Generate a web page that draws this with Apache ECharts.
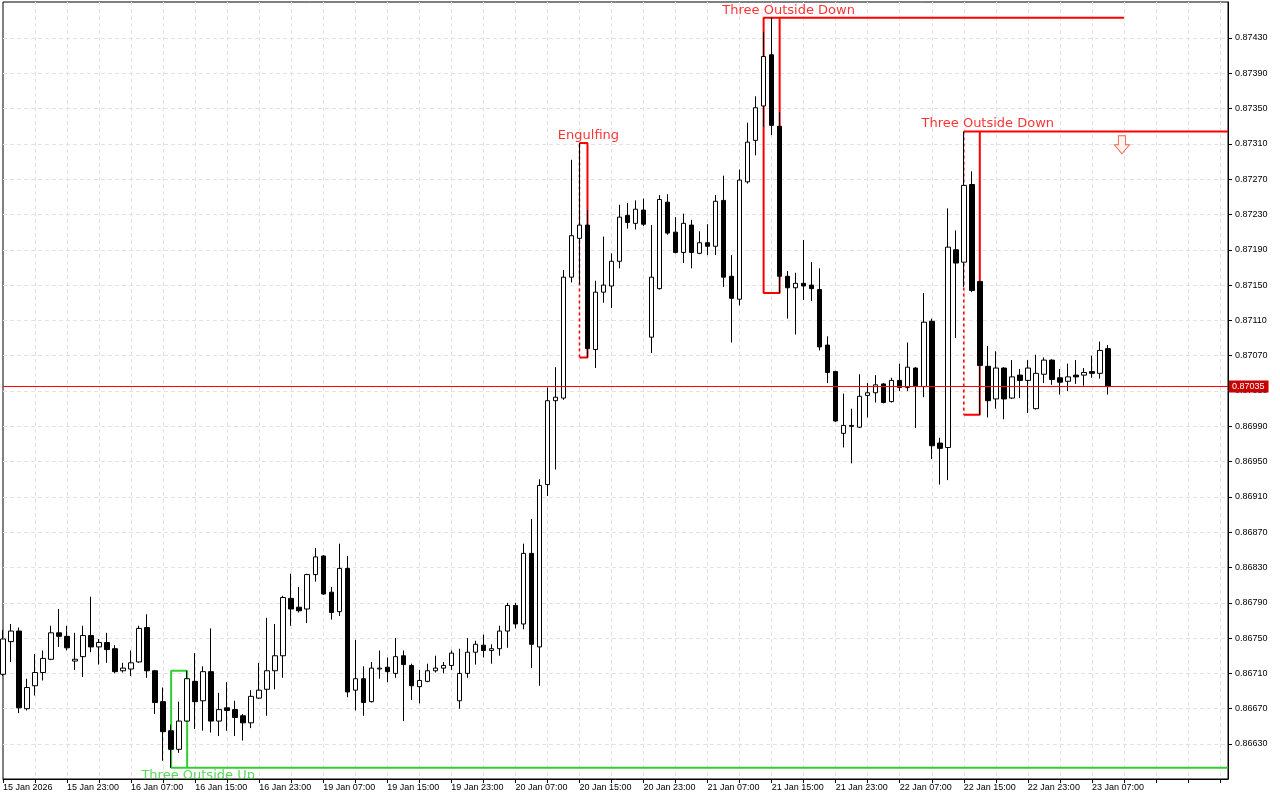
<!DOCTYPE html>
<html><head><meta charset="utf-8">
<script src="https://cdn.jsdelivr.net/npm/echarts@6/dist/echarts.min.js"></script>
<style>html,body{margin:0;padding:0;background:#fff}#chart{width:1280px;height:800px}</style>
</head><body><div id="chart"></div>
<script>
// ---- data ----
const tickLabels = ['15 Jan 2026','15 Jan 23:00','16 Jan 07:00','16 Jan 15:00','16 Jan 23:00','19 Jan 07:00','19 Jan 15:00','19 Jan 23:00','20 Jan 07:00','20 Jan 15:00','20 Jan 23:00','21 Jan 07:00','21 Jan 15:00','21 Jan 23:00','22 Jan 07:00','22 Jan 15:00','22 Jan 23:00','23 Jan 07:00'];
const yTicks = [0.86630,0.86670,0.86710,0.86750,0.86790,0.86830,0.86870,0.86910,0.86950,0.86990,0.87030,0.87070,0.87110,0.87150,0.87190,0.87230,0.87270,0.87310,0.87350,0.87390,0.87430];

const opens = [0.86709,0.86746,0.86758,0.86670,0.86696,0.86711,0.86726,0.86756,0.86752,0.86724,0.86729,0.86753,0.86740,0.86745,0.86738,0.86713,0.86715,0.86723,0.86762,0.86713,
0.86678,0.86645,0.86624,0.86656,0.86701,0.86679,0.86712,0.86656,0.86671,0.86669,0.86662,0.86654,0.86682,0.86692,0.86713,0.86730,0.86795,0.86785,0.86783,0.86822,
0.86843,0.86802,0.86780,0.86829,0.86691,0.86704,0.86678,0.86715,0.86717,0.86710,0.86730,0.86719,0.86695,0.86701,0.86713,0.86716,0.86719,0.86679,0.86710,0.86734,
0.86742,0.86736,0.86738,0.86758,0.86787,0.86766,0.86846,0.86740,0.86924,0.87019,0.87022,0.87159,0.87203,0.87218,0.87077,0.87142,0.87149,0.87177,0.87229,0.87220,
0.87235,0.87091,0.87146,0.87244,0.87210,0.87187,0.87218,0.87186,0.87198,0.87194,0.87246,0.87160,0.87134,0.87267,0.87314,0.87353,0.87411,0.87330,0.87160,0.87147,
0.87152,0.87150,0.87145,0.87082,0.87052,0.86982,0.86991,0.86989,0.87025,0.87028,0.87038,0.87018,0.87042,0.87034,0.87056,0.87035,0.87109,0.86971,0.86966,0.87190,
0.87176,0.87264,0.87154,0.87058,0.87021,0.87056,0.87022,0.87048,0.87042,0.87010,0.87049,0.87065,0.87045,0.87041,0.87048,0.87048,0.87052,0.87050,0.87078];
const closes = [0.86749,0.86758,0.86671,0.86694,0.86711,0.86727,0.86756,0.86752,0.86739,0.86726,0.86753,0.86740,0.86745,0.86737,0.86712,0.86716,0.86722,0.86761,0.86713,0.86677,
0.86644,0.86624,0.86656,0.86704,0.86678,0.86712,0.86656,0.86669,0.86668,0.86660,0.86654,0.86684,0.86691,0.86713,0.86730,0.86796,0.86783,0.86781,0.86822,0.86842,
0.86800,0.86779,0.86829,0.86689,0.86704,0.86677,0.86716,0.86716,0.86712,0.86729,0.86720,0.86696,0.86702,0.86713,0.86716,0.86719,0.86733,0.86710,0.86734,0.86743,
0.86736,0.86738,0.86758,0.86787,0.86766,0.86846,0.86743,0.86923,0.87019,0.87023,0.87159,0.87206,0.87218,0.87078,0.87142,0.87150,0.87177,0.87227,0.87221,0.87236,
0.87219,0.87159,0.87247,0.87209,0.87187,0.87220,0.87187,0.87198,0.87194,0.87245,0.87159,0.87135,0.87269,0.87312,0.87351,0.87409,0.87331,0.87160,0.87147,0.87152,
0.87149,0.87146,0.87080,0.87051,0.86996,0.86991,0.86990,0.87024,0.87028,0.87037,0.87017,0.87042,0.87034,0.87057,0.87036,0.87108,0.86968,0.86965,0.87193,0.87175,
0.87263,0.87144,0.87059,0.87019,0.87056,0.87021,0.87046,0.87042,0.87056,0.87050,0.87065,0.87043,0.87040,0.87046,0.87046,0.87051,0.87050,0.87076,0.87035];
const lows = [0.86707,0.86723,0.86665,0.86668,0.86685,0.86702,0.86725,0.86740,0.86736,0.86714,0.86706,0.86734,0.86720,0.86722,0.86710,0.86711,0.86707,0.86722,0.86705,0.86664,
0.86611,0.86603,0.86620,0.86655,0.86647,0.86645,0.86643,0.86639,0.86645,0.86639,0.86634,0.86648,0.86681,0.86662,0.86692,0.86705,0.86764,0.86779,0.86767,0.86814,
0.86799,0.86771,0.86775,0.86683,0.86668,0.86662,0.86677,0.86704,0.86700,0.86705,0.86656,0.86680,0.86676,0.86700,0.86711,0.86710,0.86714,0.86670,0.86705,0.86720,
0.86728,0.86721,0.86730,0.86739,0.86761,0.86760,0.86716,0.86696,0.86911,0.86941,0.87020,0.87153,0.87151,0.87068,0.87056,0.87130,0.87124,0.87169,0.87214,0.87213,
0.87217,0.87073,0.87145,0.87207,0.87186,0.87175,0.87169,0.87185,0.87184,0.87184,0.87148,0.87085,0.87127,0.87265,0.87297,0.87329,0.87320,0.87141,0.87112,0.87094,
0.87133,0.87132,0.87076,0.87039,0.86995,0.86966,0.86948,0.86988,0.87000,0.87017,0.87016,0.87017,0.87030,0.87030,0.86988,0.87023,0.86953,0.86924,0.86929,0.87090,
0.87148,0.87142,0.87003,0.87000,0.87010,0.86998,0.87021,0.87022,0.87005,0.87009,0.87039,0.87037,0.87026,0.87030,0.87038,0.87036,0.87045,0.87044,0.87026];
const highs = [0.86759,0.86766,0.86762,0.86704,0.86732,0.86736,0.86764,0.86783,0.86764,0.86756,0.86764,0.86797,0.86749,0.86756,0.86742,0.86722,0.86736,0.86764,0.86777,0.86714,
0.86694,0.86652,0.86678,0.86713,0.86733,0.86718,0.86761,0.86688,0.86700,0.86679,0.86664,0.86691,0.86722,0.86773,0.86766,0.86798,0.86823,0.86808,0.86823,0.86852,
0.86844,0.86808,0.86857,0.86843,0.86748,0.86718,0.86723,0.86736,0.86728,0.86750,0.86736,0.86721,0.86714,0.86721,0.86730,0.86723,0.86736,0.86738,0.86750,0.86747,
0.86754,0.86743,0.86764,0.86790,0.86790,0.86857,0.86885,0.86930,0.87034,0.87057,0.87167,0.87292,0.87311,0.87235,0.87155,0.87205,0.87186,0.87241,0.87243,0.87246,
0.87248,0.87218,0.87252,0.87253,0.87227,0.87231,0.87224,0.87211,0.87219,0.87252,0.87274,0.87184,0.87281,0.87334,0.87364,0.87437,0.87453,0.87346,0.87166,0.87164,
0.87201,0.87176,0.87169,0.87092,0.87053,0.87027,0.87010,0.87049,0.87039,0.87048,0.87039,0.87045,0.87061,0.87085,0.87057,0.87141,0.87112,0.86977,0.87237,0.87212,
0.87324,0.87279,0.87155,0.87081,0.87075,0.87057,0.87065,0.87055,0.87065,0.87071,0.87068,0.87066,0.87055,0.87061,0.87065,0.87056,0.87070,0.87086,0.87082];

// candle patterns found on the chart: first/last candle index, pattern high/low
const patternNames = ['Three Outside Up','Engulfing','Three Outside Down','Three Outside Down'];
const patternFirst = [21, 72, 95, 120];
const patternLast  = [23, 73, 97, 122];
const patternHigh  = [0.86713, 0.87311, 0.87453, 0.87324];
const patternLow   = [0.86603, 0.87068, 0.87141, 0.87003];
const signalIndex = 140;        // sell arrow slot
const signalPrice = 0.87309;

// ---- build ----
const FUTURE = 15;
const N = opens.length + FUTURE;
const cats = Array.from({length: N}, (_, i) => String(i));
const LAST = N - 1;
const candles = opens.map((o, i) => [o, closes[i], lows[i], highs[i]]);
const lastClose = closes[closes.length - 1];
const RED = '#ff0000', GREEN = '#32cd32';

function seg(data, color, dashed) {
  return {type: 'line', data, symbol: 'none', silent: true, animation: false, z: 1, color,
    lineStyle: {color, width: dashed ? 1.5 : 2, type: dashed ? [3, 3] : 'solid'}};
}
const [pU, pE, pD1, pD2] = [0, 1, 2, 3];
const boxSeries = [
  // Three Outside Up (bottom line extended to right edge)
  seg([[LAST, patternLow[pU]], [patternFirst[pU], patternLow[pU]], [patternFirst[pU], patternHigh[pU]], [patternLast[pU], patternHigh[pU]], [patternLast[pU], patternLow[pU]]], GREEN),
  // Engulfing
  seg([[patternFirst[pE], patternHigh[pE]], [patternLast[pE], patternHigh[pE]], [patternLast[pE], patternLow[pE]], [patternFirst[pE], patternLow[pE]]], RED),
  seg([[patternFirst[pE], patternLow[pE]], [patternFirst[pE], patternHigh[pE]]], RED, true),
  // Three Outside Down #1 (top line extended to signal slot)
  seg([[signalIndex, patternHigh[pD1]], [patternFirst[pD1], patternHigh[pD1]], [patternFirst[pD1], patternLow[pD1]], [patternLast[pD1], patternLow[pD1]], [patternLast[pD1], patternHigh[pD1]]], RED),
  // Three Outside Down #2 (top line extended to right edge)
  seg([[LAST, patternHigh[pD2]], [patternFirst[pD2], patternHigh[pD2]]], RED),
  seg([[patternFirst[pD2], patternLow[pD2]], [patternLast[pD2], patternLow[pD2]], [patternLast[pD2], patternHigh[pD2]]], RED),
  seg([[patternFirst[pD2], patternHigh[pD2]], [patternFirst[pD2], patternLow[pD2]]], RED, true)
];

// bid line series (behind candles)
const bidSeries = {
  type: 'line', data: [], symbol: 'none', silent: true, animation: false, z: 1, color: RED,
  markLine: {
    symbol: 'none', silent: true, animation: false, precision: 5,
    lineStyle: {color: RED, width: 1, type: 'solid', opacity: 1},
    label: {show: true, position: 'end', distance: 1, formatter: p => Number(p.value).toFixed(5),
      color: '#fff', backgroundColor: '#c80000', padding: [2, 4, 1, 3], fontSize: 9, fontFamily: 'Liberation Sans'},
    emphasis: {disabled: true},
    data: [{yAxis: lastClose, lineStyle: {color: RED, width: 1, type: 'solid'}}]
  }
};

const labelAnchors = [
  {value: [24, patternLow[pU]], name: patternNames[pU], pos: 'bottom', color: GREEN, off: [3, 0]},
  {value: [patternLast[pE], patternHigh[pE]], name: patternNames[pE], pos: 'top', color: RED, off: [1, 0]},
  {value: [patternLast[pD1] + 1, patternHigh[pD1]], name: patternNames[pD1], pos: 'top', color: RED, off: [1, 0]},
  {value: [patternLast[pD2] + 1, patternHigh[pD2]], name: patternNames[pD2], pos: 'top', color: RED, off: [0, 0]}
];

const axisFont = {fontSize: 9, fontFamily: 'Liberation Sans', color: '#000'};
const gridLine = {color: '#e2e2e2', width: 1, type: [4, 3]};

const chart = echarts.init(document.getElementById('chart'), null, {renderer: 'canvas'});
chart.setOption({
  backgroundColor: '#fff',
  animation: false,
  grid: {left: 2, right: 52, top: 2, bottom: 21, show: true, borderColor: '#000', borderWidth: 1, backgroundColor: '#fff'},
  xAxis: [
    {type: 'category', data: cats, boundaryGap: false, position: 'bottom', z: 0,
      axisLine: {show: false}, axisTick: {show: false}, axisLabel: {show: false},
      splitLine: {show: true, interval: i => i % 4 === 0 && i > 0, lineStyle: gridLine}},
    {type: 'category', data: cats, boundaryGap: false, position: 'bottom', z: 60,
      axisLine: {show: true, lineStyle: {color: '#000', width: 1}},
      axisTick: {show: true, interval: i => i % 4 === 0, length: 4, lineStyle: {color: '#000'}},
      axisLabel: Object.assign({show: true, interval: i => i % 8 === 0 && i / 8 < tickLabels.length,
        formatter: (v, i) => tickLabels[i / 8] || '', align: 'left', margin: 4}, axisFont),
      splitLine: {show: false}}
  ],
  yAxis: {type: 'value', position: 'right', min: 0.8659035, max: 0.874708,
    axisLine: {show: true, lineStyle: {color: '#000'}},
    axisTick: {show: true, length: 4, customValues: yTicks, lineStyle: {color: '#000'}},
    axisLabel: Object.assign({customValues: yTicks, formatter: v => v.toFixed(5), margin: 7}, axisFont),
    splitLine: {show: true, lineStyle: gridLine}},
  graphic: [{type: 'rect', shape: {x: 0, y: 780, width: 1229, height: 20}, style: {fill: '#fff'}, z: 50, silent: true}],
  series: [
    ...boxSeries,
    bidSeries,
    {type: 'candlestick', data: candles, barWidth: 5, z: 3, animation: false,
      itemStyle: {color: '#fff', color0: '#000', borderColor: '#000', borderColor0: '#000', borderWidth: 1}},
    {type: 'scatter', symbolSize: 0, z: 4, silent: true, animation: false,
      data: labelAnchors.map(a => ({value: a.value, label: {show: true, position: a.pos, distance: 1, offset: a.off,
        formatter: a.name, color: a.color, fontSize: 13, fontFamily: 'DejaVu Sans'}}))},
    {type: 'scatter', z: 4, silent: true, animation: false,
      symbol: 'path://M4,0 L11,0 L11,9 L15,9 L7.5,18 L0,9 L4,9 Z', symbolSize: [15, 18], symbolOffset: [-2, 0],
      itemStyle: {color: '#fff3ee', borderColor: '#f03a2a', borderWidth: 1},
      data: [[signalIndex, signalPrice]]}
  ]
});
</script></body></html>
